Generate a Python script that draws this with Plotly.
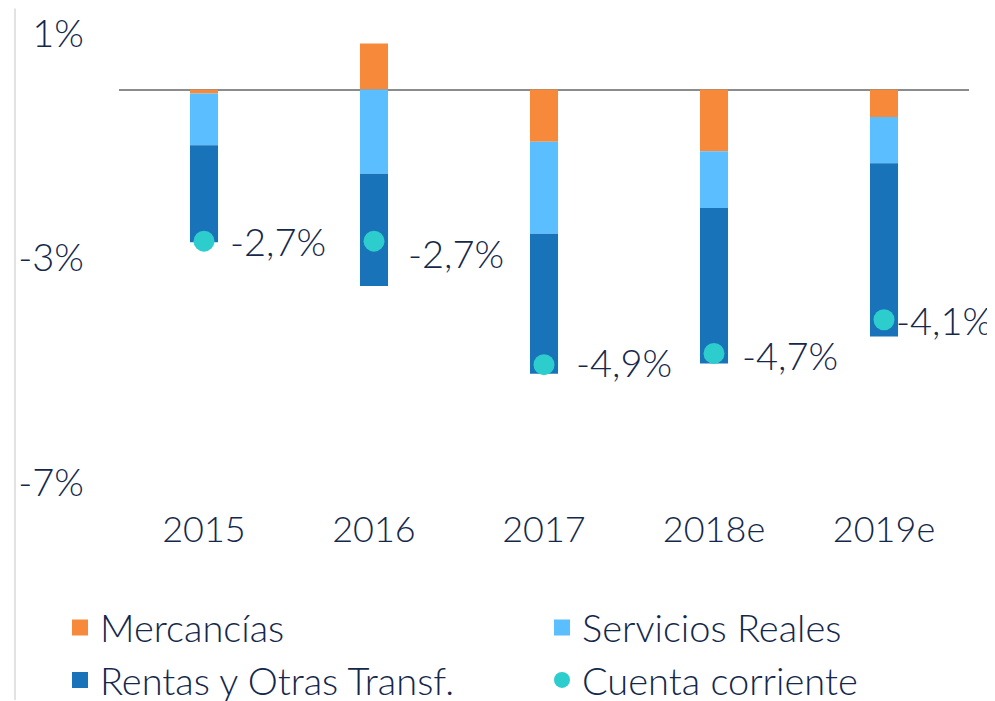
import plotly.graph_objects as go

years = ["2015", "2016", "2017", "2018e", "2019e"]
mercancias = [-0.07, 0.82, -0.93, -1.10, -0.49]
servicios = [-0.92, -1.50, -1.64, -1.01, -0.82]
rentas = [-1.73, -2.00, -2.49, -2.77, -3.09]
cuenta = [-2.7, -2.7, -4.9, -4.7, -4.1]
y_ticks = [1, -3, -7]

# label placement (pixel offsets from each dot), style only
LABEL_DX = [26, 34, 32, 28, 12]
LABEL_DY = [0, 12, -3, 2, 0]

C_MERC = "#F7893B"
C_SERV = "#5BBEFF"
C_RENT = "#1973B8"
C_CTA = "#2DCCCD"
TXT = "#14284B"
FONT = "Lato"
FS = 36
FS_LBL = 38
FS_Y = 38
FS_LEG = 38

OFF = 8  # page body margin
W, H = 995 - OFF, 701 - OFF
ML = 119 - OFF
PR = 969 - OFF
PT = 10.5 - OFF
PB = 505.5 - OFF
MR = W - PR
MB = H - PB
plot_w = PR - ML
plot_h = PB - PT

fig = go.Figure()
for name, vals, col in [("Mercancías", mercancias, C_MERC),
                        ("Servicios Reales", servicios, C_SERV),
                        ("Rentas y Otras Transf.", rentas, C_RENT)]:
    fig.add_trace(go.Bar(x=years, y=vals, name=name, marker=dict(color=col, line=dict(width=0)),
                         width=0.165, showlegend=False, hoverinfo="skip"))

fig.add_trace(go.Scatter(x=years, y=cuenta, mode="markers", name="Cuenta corriente",
                         marker=dict(color=C_CTA, size=21),
                         showlegend=False, hoverinfo="skip", cliponaxis=False))

labels = [f"{v:.1f}%".replace(".", ",") for v in cuenta]
for i, (yv, t, dx, dy) in enumerate(zip(cuenta, labels, LABEL_DX, LABEL_DY)):
    fig.add_annotation(x=i, y=yv, xref="x", yref="y", text=t, showarrow=False,
                       xanchor="left", yanchor="middle",
                       xshift=dx - 2, yshift=-dy,
                       font=dict(size=FS_LBL, color=TXT, family=FONT, weight=300))

# legend entries (two columns -> two legends)
for name, col, sym, lg in [("Mercancías", C_MERC, "square", "legend"),
                           ("Rentas y Otras Transf.", C_RENT, "square", "legend"),
                           ("Servicios Reales", C_SERV, "square", "legend2"),
                           ("Cuenta corriente", C_CTA, "circle", "legend2")]:
    fig.add_trace(go.Scatter(x=[None], y=[None], mode="markers", name=name, legend=lg,
                             marker=dict(color=col, size=16, symbol=sym), showlegend=True))

x_line = (15 - OFF - ML) / plot_w
fig.add_shape(type="line", xref="paper", yref="paper", x0=x_line, x1=x_line,
              y0=-(H - PB) / plot_h, y1=PB / plot_h,
              line=dict(color="#D9D9D9", width=1.5))

leg_common = dict(orientation="v", xanchor="left", yanchor="top",
                  y=-(597 - OFF - PB) / plot_h,
                  font=dict(size=FS_LEG, color=TXT, family=FONT, weight=300),
                  bgcolor="rgba(0,0,0,0)", itemsizing="trace")

fig.update_layout(
    width=W, height=H,
    margin=dict(l=ML, r=MR, t=PT, b=MB, autoexpand=False),
    paper_bgcolor="white", plot_bgcolor="white",
    barmode="relative",
    font=dict(family=FONT, size=FS, color=TXT, weight=300),
    xaxis=dict(type="category", range=[-0.5, 4.5], showgrid=False, showline=False,
               ticks="", tickfont=dict(size=FS, color=TXT, weight=300), ticklabelstandoff=0),
    yaxis=dict(range=[-7.4, 1.4], tickvals=y_ticks, ticktext=[f"{v}%" for v in y_ticks],
               showgrid=False, zeroline=True, zerolinecolor="#8C8C8C", zerolinewidth=2,
               showline=False, ticks="", tickfont=dict(size=FS_Y, color=TXT, weight=300),
               ticklabelstandoff=34),
    legend=dict(x=(60 - OFF - ML) / plot_w, **leg_common),
    legend2=dict(x=(542 - OFF - ML) / plot_w, **leg_common),
    showlegend=True,
)

fig.write_html("out.html")
